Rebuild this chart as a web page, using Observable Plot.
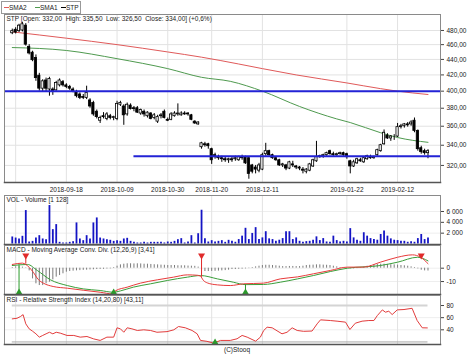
<!DOCTYPE html>
<html><head><meta charset="utf-8">
<script src="https://cdn.jsdelivr.net/npm/d3@7"></script>
<script src="https://cdn.jsdelivr.net/npm/@observablehq/plot@0.6"></script>
<style>
html,body{margin:0;padding:0;background:#fff;overflow:hidden;}
#chart{position:relative;width:474px;height:355px;overflow:hidden;font-family:"Liberation Sans",Arial,sans-serif;color:#222;}
#chart svg{position:absolute;left:0;top:0;}
.legend{position:absolute;left:1px;top:1px;width:78px;height:11px;border:1px solid #999;background:#fff;font-size:6.5px;}
.legend span{position:absolute;top:2px;line-height:7px;}
.legend i{position:absolute;top:5px;height:1px;width:5px;}
.copy{position:absolute;left:0;width:474px;top:346px;text-align:center;font-size:6.5px;line-height:8px;}
</style></head>
<body><div id="chart">
<div class="legend">
<i style="left:2px;background:#e05a5a"></i><span style="left:7px">SMA2</span>
<i style="left:33px;background:#4f9a4f"></i><span style="left:38px">SMA1</span>
<i style="left:59px;background:#000"></i><span style="left:64px">STP</span>
</div>
<div class="copy">(C)Stooq</div>
</div>
<script>
// ---- data (trading-day index 0 = 2018-08-27 ... 123 = 2019-02-25) ----
const dateTicks = [16, 31, 46, 59, 74, 99, 114];
const dateLabels = ["2018-09-18","2018-10-09","2018-10-30","2018-11-20","2018-12-11","2019-01-22","2019-02-12"];
const gridDays = [1, 16, 31, 46, 59, 74, 99, 114];

const priceTicks = [320,340,360,380,400,420,440,460,480];
const priceLabels = ["320,00","340,00","360,00","380,00","400,00","420,00","440,00","460,00","480,00"];

const open = [
476,481,479,480,487,457,449,442,419,403,
413,402,402,401,407,411,407,405,402,399,
396,393,392,389,386,376,366,371,368,371,
369,368,384,382,373,383,380,380,374,376,
371,374,369,365,371,376,367,367,371,373,
372,374,374,372,365,362,338,341,341,336,
330,328,327,326,325,326,326,325,328,328,
327,320,318,315,316,331,334,330,327,325,
320,320,317,321,319,318,316,314,315,319,
324,328,329,330,334,331,330,331,332,331,
324,319,322,325,323,326,328,327,330,334,
341,350,347,348,349,359,360,362,362,366,
355,337,334,332];
const high = [
482,484,489,492,490,460,451,446,422,414,
416,417,404,412,415,413,409,407,404,401,
398,396,406,391,388,378,371,375,375,373,
371,388,388,384,386,385,382,382,379,378,
376,375,374,372,374,378,369,375,376,385,
376,376,375,373,366,365,343,343,342,337,
332,330,329,328,327,328,329,329,330,329,
328,321,320,322,332,342,335,331,328,326,
322,321,324,324,320,319,318,317,322,326,
344,330,331,333,335,333,332,333,333,332,
325,325,327,327,328,330,330,329,336,341,
356,352,350,351,363,362,363,364,366,369,
356,339,336,335.5];
const low = [
474,475,477,478,458,446,437,412,400,399,
399,394,395,400,405,405,403,401,398,392,
390,390,390,380,371,368,363,368,366,367,
366,366,382,361,371,378,376,374,372,370,
369,367,367,363,368,368,365,366,370,371,
371,372,371,366,362,361,336,338,336,321,
326,325,323,323,322,323,324,324,325,321,
307,312,312,313,315,329,329,326,324,319,
318,315,316,318,316,315,312,312,314,318,
323,327,327,329,330,329,329,330,329,326,
312,318,321,323,322,325,326,326,329,333,
340,346,344,345,348,357,358,359,360,353,
334,331,330,326.5];
const close = [
479,477,487,489,460,448,439,416,403,412,
403,415,400,410,413,407,405,403,400,394,
392,392,398,382,373,370,369,370,373,369,
370,385,386,372,384,379,379,375,378,373,
375,368,372,370,372,369,366,373,374,374,
374,373,373,367,363,364,342,340,339,325,
328,327,326,325,326,325,327,328,327,322,
312,314,316,320,330,334,330,327,325,320,
321,317,323,320,318,317,315,316,321,325,
328,329,330,332,331,330,331,332,330,328,
319,323,326,324,327,329,327,328,335,340,
353,347,349,348,359,360,362,361,364,355,
336,333,332,334];

// moving averages read at sample days [day, value]
const sma2 = [[0,478],[16,469],[31,460],[46,450],[56,443],[67,434],[74,428],[84,420],[99,410],[109,403],[114,400],[123,396]];
const sma1 = [[0,456],[16,452],[31,441],[46,428],[56,417],[64.5,412],[74,400],[85,382],[96,368],[100,364],[109,353],[114,348],[123,343]];
const levelHigh = 400;
const levelLow = 329;
const levelLowFrom = 36;

const volume = [
1300,1100,930,1420,6170,370,490,1100,1540,930,
800,7100,2650,3580,310,190,190,310,430,3890,
930,620,1540,930,3890,4810,1100,930,800,680,
490,620,490,930,1050,490,310,190,190,310,
190,310,310,310,310,190,370,310,490,800,
990,190,370,1540,190,1900,6230,990,370,620,
370,490,620,310,680,500,320,820,1450,2900,
820,1950,3020,820,1130,2270,950,820,500,700,
1000,2270,2270,820,1130,500,320,440,500,700,
1320,630,1000,380,320,1450,630,380,500,380,
2840,1130,700,500,2080,1450,1000,820,700,1760,
2400,1450,950,700,630,500,500,320,440,320,
1000,1760,820,1128];
const volTicks = [2000,4000,6000];
const volLabels = ["2 000","4 000","6 000"];

const macd = [[0,2.8],[3,3.8],[4,2.8],[6.2,-3],[7.7,-8.5],[9.2,-11.2],[12.1,-13.7],[16.3,-15],[21,-16.5],[26,-18],[29.6,-19.2],[30.5,-17],[34,-14.2],[37.9,-11.2],[42.9,-8.7],[47.7,-6.7],[51.8,-5],[54.8,-5.3],[55.7,-6],[56.5,-9],[57.7,-11],[60.7,-12.5],[64.5,-13],[68.4,-11.7],[74.3,-11.2],[79.3,-8],[84.4,-6.5],[89.1,-4.2],[94.1,-1.7],[99.2,0.8],[103.9,0.8],[108.9,4.5],[114,8.2],[118.4,10],[120.8,8.2],[123,3.41]];
const signal = [[0,2],[4.5,2.8],[7.4,-1.7],[11.3,-8.7],[16.3,-13],[21,-15.5],[26,-16.7],[29.9,-18],[32,-17],[35.8,-14.2],[40.9,-11.7],[45.9,-9.2],[51.8,-6.7],[55.7,-5.5],[60.7,-8],[65.4,-10.5],[69,-12.3],[74.3,-12.2],[79.3,-10.5],[84.4,-8],[89.1,-5.5],[94.1,-2.5],[99.2,0],[108.9,2],[114,4.5],[119.9,8.2],[123,5.5]];
const hist = [
0.5,1,1,0.8,0.3,-2,-8,-11.7,-13,-13,
-11.7,-10.5,-8.7,-6.7,-5.5,-4.2,-3,-2.5,-2.2,-2,
-1.8,-1.6,-1.5,-1.3,-1.2,-1,-0.9,-0.8,-0.6,-0.5,
0.5,1.5,2.5,3,3.3,3.3,3.2,3.3,3.2,3,
3,2.8,2.6,2.5,2.3,2.2,2,2,2,1.8,
1.8,1.8,1.6,1.5,1.4,0.8,-1.5,-2.5,-2.5,-2.4,
-2.3,-2.2,-2,-1.8,-1.5,-1,-1,-0.8,-0.7,-0.5,
-0.3,0.5,1,1.5,2,2.2,2.2,2,1.8,1.5,
1.2,1.2,1.3,1.3,1.2,1.2,1.5,2,2.2,2.3,
2.5,2.5,2.3,2.2,2,1.5,1,0.5,0.3,-0.3,
-0.5,-0.5,-0.3,0.3,0.8,1.5,2,2.5,2.8,3,
3,2.8,2.6,2.5,2.3,2,1.8,1.5,1,0.5,
-0.5,-1.5,-2,-2.1];
const macdTicks = [-10, 0];
const macdLabels = ["-10", "0"];
const sellDays = [4, 56, 121];
const sellCross = [3.0, -6.8, 8.6];
const buyDays = [2, 30, 69];
const buyCross = [2.5, -18.4, -12.3];
const markTop = 9.5;
const markBottom = -18.2;

const rsi = [[0,58],[1.4,59],[2.4,61.8],[3.2,65],[4,49.8],[5,41.6],[6,37.7],[7,33.4],[8,27.9],[9,30.7],[10,33.4],[11,36],[12,33.4],[13,36],[14.2,34.5],[16.2,30.7],[18.2,30.7],[20.1,27.9],[22.1,29],[24.1,25],[26,22.5],[28,27.9],[30,27.9],[31,43.3],[32,41.6],[33,36],[34,43.3],[35.4,41.6],[37,38.9],[38.9,40],[40.9,38.9],[42.8,36],[45.8,37],[47.8,40],[49.2,45.4],[51.2,43.3],[53.2,38.9],[54.7,33.4],[55.7,22.5],[57.6,21],[59.6,18],[61.6,22.5],[64.5,22.5],[66.5,25.2],[68,30.7],[69.5,27.9],[72,21.3],[73.4,27.9],[74.4,38.9],[75.4,44.3],[76.9,43.3],[79.8,33.4],[81.3,36],[82.8,43.3],[84.3,38.9],[86.2,37.5],[88.7,38],[90.2,49.8],[91.2,56.4],[94.1,55.3],[96.1,54.2],[98.6,52.6],[99.9,40.5],[101.5,50.9],[103.5,54.2],[105.5,55.3],[107,55.3],[108,63.4],[109.5,72.8],[110.4,69],[111.4,70.6],[112.4,65.1],[113.9,72.8],[115.9,73.4],[118.3,75.4],[119.8,55.2],[121.3,43.3],[122.8,43.11]];
const rsiTicks = [40, 60, 80];
const rsiBuyDays = [60];
const rsiBuyValue = [19];
const rsiUpper = 80, rsiLower = 20;

const headMain = "STP [Open: 332,00  High: 335,50  Low: 326,50  Close: 334,00] (+0,6%)";
const headVol = "VOL - Volume [1 128]";
const headMacd = "MACD - Moving Average Conv. Div. (12,26,9) [3,41]";
const headRsi = "RSI - Relative Strength Index (14,20,80) [43,11]";

// ---- drawing ----
const xDomain = [-2.3, 126.7];
const firstDay = 0, lastDay = open.length - 1;
const font = {fontFamily: '"Liberation Sans", Arial, sans-serif', fontSize: "6.5px", background: "transparent", color: "#222"};
const gridC = "#e2e2e2";

function panel(top, bottom, y, marks) {
  return Plot.plot({
    width: 474, height: 355,
    marginLeft: 4, marginRight: 34, marginTop: top, marginBottom: 355 - bottom,
    x: {domain: xDomain, axis: null, label: null},
    y: {...y, axis: null, label: null},
    style: font,
    marks
  });
}
const lab = (ticks, labels) => d => labels[ticks.indexOf(d)];
const rightAxis = (ticks, labels) => Plot.axisY({anchor: "right", label: null, ticks, tickFormat: labels ? lab(ticks, labels) : d => String(d), tickSize: 3, tickPadding: 3, stroke: "#444", fill: "#222"});
const header = t => Plot.text([t], {frameAnchor: "top-left", dx: 2, dy: 2, lineAnchor: "top", textAnchor: "start", fill: "#222"});
const bottomLine = Plot.frame({anchor: "bottom", stroke: "#555", strokeWidth: 1.5});

const rows = open.map((o, i) => ({i, o, h: high[i], l: low[i], c: close[i], up: close[i] >= o}));
const chart = document.getElementById("chart");

// main price panel
chart.appendChild(panel(14, 182, {type: "log", domain: [304, 503.6]}, [
  Plot.ruleY(priceTicks, {stroke: gridC}),
  Plot.ruleX(gridDays, {stroke: gridC}),
  Plot.line(sma2, {x: d => d[0], y: d => d[1], stroke: "#e05a5a", strokeWidth: 1, curve: "monotone-x"}),
  Plot.line(sma1, {x: d => d[0], y: d => d[1], stroke: "#4f9a4f", strokeWidth: 1, curve: "monotone-x"}),
  Plot.ruleX(rows, {x: d => d.i, y1: d => d.l, y2: d => d.h, stroke: "#000", strokeWidth: 1}),
  Plot.rect(rows, {x1: d => d.i - 0.33, x2: d => d.i + 0.33, y1: d => Math.min(d.o, d.c), y2: d => Math.max(d.o, d.c), fill: d => d.up ? "#fff" : "#000", stroke: "#000", strokeWidth: 0.8}),
  Plot.ruleY([levelHigh], {stroke: "#2323d6", strokeWidth: 2}),
  Plot.ruleY([levelLow], {x1: levelLowFrom, x2: xDomain[1], stroke: "#2323d6", strokeWidth: 2}),
  header(headMain),
  Plot.frame({stroke: "#8a8a8a"}),
  bottomLine,
  rightAxis(priceTicks, priceLabels),
  Plot.axisX({ticks: dateTicks, label: null, tickFormat: lab(dateTicks, dateLabels), tickSize: 0, tickPadding: 5, fill: "#222"})
]));

// volume panel
chart.appendChild(panel(195, 244, {domain: [-90, 8950]}, [
  Plot.ruleY(volTicks, {stroke: "#eeeeee"}),
  Plot.ruleX(gridDays, {stroke: gridC}),
  Plot.ruleX(volume, {x: (d, i) => i, y1: 0, y2: d => d, stroke: "#1414c4", strokeWidth: 1.8}),
  header(headVol),
  Plot.frame({stroke: "#8a8a8a"}),
  bottomLine,
  rightAxis(volTicks, volLabels)
]));

// MACD panel
chart.appendChild(panel(245, 294, {domain: [-19.7, 17.0]}, [
  Plot.ruleY(macdTicks, {stroke: "#eeeeee"}),
  Plot.ruleX(gridDays, {stroke: gridC}),
  Plot.ruleX(hist, {x: (d, i) => i, y1: 0, y2: d => d, stroke: "#7a7a7a", strokeWidth: 1}),
  Plot.line(signal, {x: d => d[0], y: d => d[1], stroke: "#3a9e3a", strokeWidth: 1, curve: "monotone-x"}),
  Plot.line(macd, {x: d => d[0], y: d => d[1], stroke: "#e83a3a", strokeWidth: 1, curve: "monotone-x"}),
  Plot.ruleX(sellDays, {x: d => d, y1: markTop, y2: (d, i) => sellCross[i], stroke: "#e02a2a", strokeWidth: 1}),
  Plot.ruleX(buyDays, {x: d => d, y1: markBottom, y2: (d, i) => buyCross[i], stroke: "#2a9a2a", strokeWidth: 1}),
  Plot.dot(sellDays, {x: d => d, y: markTop, symbol: "triangle", rotate: 180, r: 2.6, fill: "#e02a2a", stroke: "none"}),
  Plot.dot(buyDays, {x: d => d, y: markBottom, symbol: "triangle", r: 2.6, fill: "#2a9a2a", stroke: "none"}),
  header(headMacd),
  Plot.frame({stroke: "#8a8a8a"}),
  bottomLine,
  rightAxis(macdTicks, macdLabels)
]));

// RSI panel
chart.appendChild(panel(295, 344, {domain: [15.8, 96.5]}, [
  Plot.ruleY([40, 60], {stroke: "#eeeeee"}),
  Plot.ruleX(gridDays, {stroke: gridC}),
  Plot.ruleY([rsiUpper], {x1: firstDay, x2: lastDay, stroke: "#d4d4d4", strokeWidth: 2}),
  Plot.ruleY([rsiLower], {x1: firstDay, x2: lastDay, stroke: "#a8a8a8", strokeWidth: 1}),
  Plot.line(rsi, {x: d => d[0], y: d => d[1], stroke: "#e23c3c", strokeWidth: 1}),
  Plot.dot(rsiBuyDays, {x: d => d, y: (d, i) => rsiBuyValue[i], symbol: "triangle", r: 2.6, fill: "#2a9a2a", stroke: "none"}),
  header(headRsi),
  Plot.frame({stroke: "#8a8a8a"}),
  bottomLine,
  rightAxis(rsiTicks)
]));
</script>
</body></html>
